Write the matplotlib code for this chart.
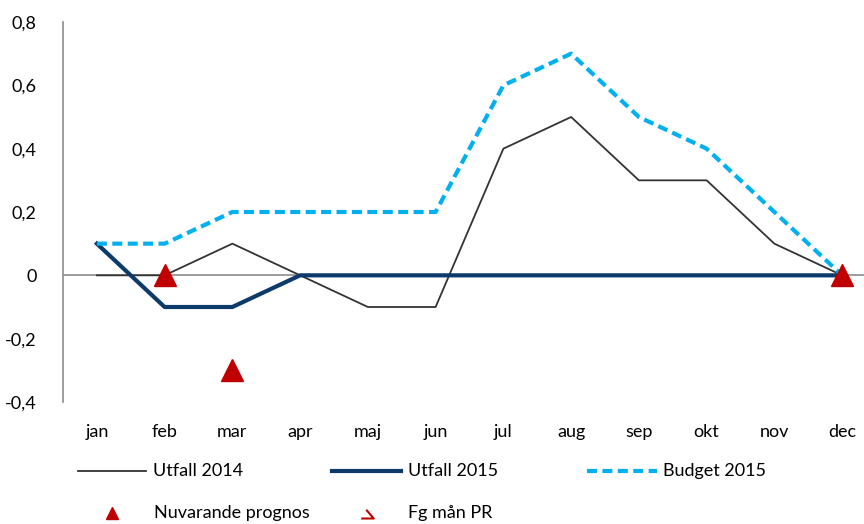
import matplotlib
matplotlib.use('Agg')
import matplotlib.pyplot as plt
from matplotlib.lines import Line2D
from matplotlib.path import Path

plt.rcParams['font.family'] = ['Lato', 'DejaVu Sans']

months = ['jan', 'feb', 'mar', 'apr', 'maj', 'jun', 'jul', 'aug', 'sep', 'okt', 'nov', 'dec']
utfall_2014 = [0, 0, 0.1, 0, -0.1, -0.1, 0.4, 0.5, 0.3, 0.3, 0.1, 0]
utfall_2015 = [0.1, -0.1, -0.1, 0, 0, 0, 0, 0, 0, 0, 0, 0]
budget_2015 = [0.1, 0.1, 0.2, 0.2, 0.2, 0.2, 0.6, 0.7, 0.5, 0.4, 0.2, 0]
prognos_months = ['feb', 'mar', 'dec']
prognos_values = [0, -0.3, 0]
y_ticks = [-0.4, -0.2, 0, 0.2, 0.4, 0.6, 0.8]
y_labels = ['-0,4', '-0,2', '0', '0,2', '0,4', '0,6', '0,8']

W, H = 864, 524
fig = plt.figure(figsize=(W / 100, H / 100), dpi=100)
ax = fig.add_axes([63 / W, 1 - 402 / H, 813 / W, (402 - 22) / H])

NAVY = '#0b3a6b'
BLUE = '#00b0f0'
GREY = '#333333'
RED = '#c00000'
DASH = (0, (2.4, 1.3))

x = list(range(len(months)))
ax.axhline(0, color='#8c8c8c', lw=1.2, zorder=1)
ax.plot(x, utfall_2014, color=GREY, lw=1.3, zorder=3)
ax.plot(x, utfall_2015, color=NAVY, lw=3, zorder=4)
ax.plot(x, budget_2015, color=BLUE, lw=3, ls=DASH, zorder=5)
px = [months.index(m) for m in prognos_months]
ax.plot(px, prognos_values, ls='none', marker='^', ms=16, color=RED,
        markeredgecolor=RED, zorder=6, clip_on=False)

ax.set_xlim(-0.5, 11.5)
ax.set_ylim(-0.4, 0.8)
ax.set_yticks(y_ticks)
ax.set_yticklabels(y_labels)
ax.set_xticks(x)
ax.set_xticklabels(months)
ax.tick_params(axis='both', length=0, labelsize=13, colors='black')
ax.tick_params(axis='y', pad=19)
ax.tick_params(axis='x', pad=16)
for s in ['top', 'right', 'bottom']:
    ax.spines[s].set_visible(False)
ax.spines['left'].set_color('#8c8c8c')
ax.spines['left'].set_linewidth(1.2)

# legend drawn by hand to follow the Excel layout
def fx(p):
    return p / W

def fy(p):
    return 1 - p / H

row1 = fy(471)
row2 = fy(513)
for x0, x1, kw, label, tx in [
        (78, 146, dict(color=GREY, lw=1.3), 'Utfall 2014', 153),
        (332, 401, dict(color=NAVY, lw=3), 'Utfall 2015', 408),
        (587, 657, dict(color=BLUE, lw=3, ls=DASH), 'Budget 2015', 663)]:
    fig.add_artist(Line2D([fx(x0), fx(x1)], [row1, row1], transform=fig.transFigure, **kw))
    fig.text(fx(tx), row1, label, fontsize=13, va='center', ha='left')

hook = Path([(-0.1, 0.3), (0.5, -0.4), (-0.5, -0.4)], [Path.MOVETO, Path.LINETO, Path.LINETO])
fig.add_artist(Line2D([fx(112)], [row2], transform=fig.transFigure, ls='none',
                      marker='^', ms=8, color=RED))
fig.text(fx(154), row2, 'Nuvarande prognos', fontsize=13, va='center', ha='left')
fig.add_artist(Line2D([fx(367)], [row2], transform=fig.transFigure, ls='none',
                      marker=hook, ms=9, markerfacecolor='none',
                      markeredgecolor=RED, markeredgewidth=1.5))
fig.text(fx(408), row2, 'Fg mån PR', fontsize=13, va='center', ha='left')

fig.savefig('out.png', dpi=100)
